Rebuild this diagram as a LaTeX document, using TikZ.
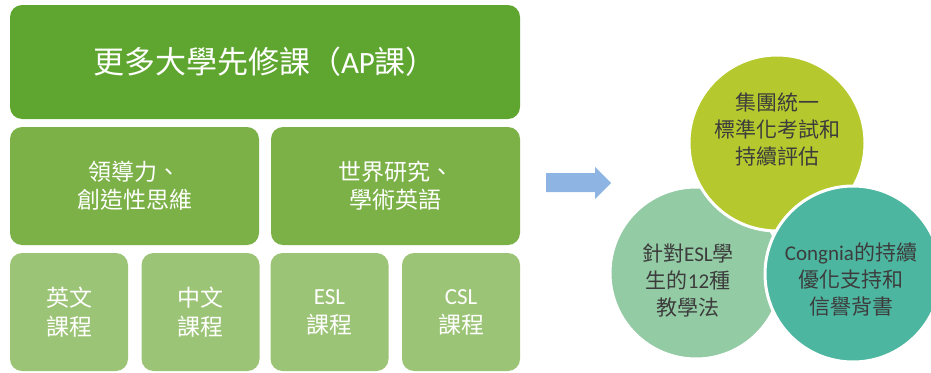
\documentclass[tikz,border=0pt]{standalone}
\usepackage{fontspec}
\setmainfont{Carlito}
\newfontfamily\cjk{Noto Sans CJK TC}
\definecolor{topgreen}{HTML}{5FA630}
\definecolor{midgreen}{HTML}{7BB147}
\definecolor{lowgreen}{HTML}{9CC476}
\definecolor{arrowblue}{HTML}{8EB4E3}
\definecolor{circyellow}{HTML}{B5C92E}
\definecolor{circmint}{HTML}{93CBA4}
\definecolor{circteal}{HTML}{4DB6A0}
\definecolor{circtext}{HTML}{3C3C3C}
\begin{document}
\begin{tikzpicture}[x=1pt,y=-1pt,
  boxbase/.style={rectangle, rounded corners=12pt, inner sep=0pt, text=white, align=center},
  topbox/.style={boxbase, fill=topgreen, font=\fontsize{31}{36}\selectfont},
  midbox/.style={boxbase, fill=midgreen, font=\fontsize{23}{28}\selectfont},
  lowbox/.style={boxbase, fill=lowgreen, font=\fontsize{23}{29}\selectfont},
  ball/.style={circle, draw=white, line width=3pt, inner sep=0pt},
  balltext/.style={text=circtext, align=center, font=\fontsize{21}{27}\selectfont}]
\path[use as bounding box] (0,0) rectangle (931,372);
\clip (0,0) rectangle (931,372);
% left block
\node[topbox, minimum width=510pt, minimum height=114pt] (ap) at (265,62) {{\cjk 更多大學先修課（}AP{\cjk 課）}};
\node[midbox, minimum width=249pt, minimum height=118pt] (lead) at (134.5,186) {{\cjk 領導力、}\\{\cjk 創造性思維}};
\node[midbox, minimum width=249pt, minimum height=118pt] (world) at (395.5,186) {{\cjk 世界研究、}\\{\cjk 學術英語}};
\node[lowbox, minimum width=118pt, minimum height=118pt] (eng) at (69,312) {{\cjk 英文}\\{\cjk 課程}};
\node[lowbox, minimum width=118pt, minimum height=118pt] (chi) at (200.5,312) {{\cjk 中文}\\{\cjk 課程}};
\node[lowbox, minimum width=118pt, minimum height=118pt] (esl) at (329.5,312) {ESL\\{\cjk 課程}};
\node[lowbox, minimum width=118pt, minimum height=118pt] (csl) at (461,312) {CSL\\{\cjk 課程}};
% arrow
\fill[arrowblue] (546,173) -- (595,173) -- (595,167) -- (611,183) -- (595,199) -- (595,192) -- (546,192) -- cycle;
% circles
\node[ball, fill=circmint, minimum size=172pt] (cmint) at (696,273) {};
\node[ball, fill=circyellow, minimum size=176pt] (cyel) at (777,143) {};
\node[ball, fill=circteal, minimum size=176pt] (cteal) at (853,274) {};
\node[balltext] (tyel) at (777,130) {{\cjk 集團統一}\\{\cjk 標準化考試和}\\{\cjk 持續評估}};
\node[balltext] (tmint) at (688,280) {{\cjk 針對}ESL{\cjk 學}\\{\cjk 生的}12{\cjk 種}\\{\cjk 教學法}};
\node[balltext] (tteal) at (851,280) {Congnia{\cjk 的持續}\\{\cjk 優化支持和}\\{\cjk 信譽背書}};
\end{tikzpicture}
\end{document}
